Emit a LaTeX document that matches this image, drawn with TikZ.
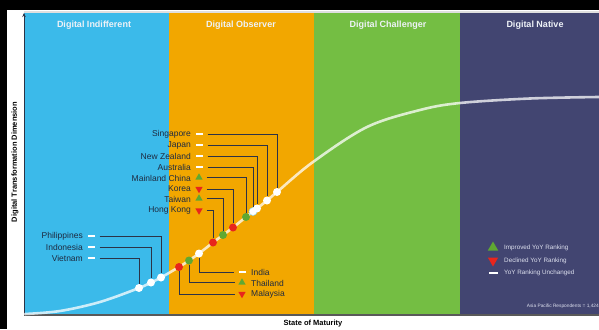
\documentclass[tikz,border=0pt]{standalone}
\usepackage{fontspec}
\setmainfont{Liberation Sans}
\usetikzlibrary{shapes.geometric,arrows.meta}
\definecolor{cblue}{HTML}{3BBAEA}
\definecolor{corange}{HTML}{F2A700}
\definecolor{cgreen}{HTML}{74BE43}
\definecolor{cnavy}{HTML}{424571}
\definecolor{ctext}{HTML}{1E2A40}
\definecolor{cline}{HTML}{2C3347}
\definecolor{cred}{HTML}{E8251C}
\definecolor{cgood}{HTML}{5FA832}
\definecolor{ctitle}{HTML}{EEF2F7}
\definecolor{cleg}{HTML}{DDE0EE}
\tikzset{
  title/.style={font=\bfseries\fontsize{9}{10}\selectfont, text=ctitle},
  lbl/.style={font=\fontsize{8.5}{9}\selectfont, text=ctext, inner sep=0pt},
  same/.style={fill=white, rectangle, inner sep=0pt, minimum width=7pt, minimum height=2pt},
  up/.style={fill=cgood, regular polygon, regular polygon sides=3, inner sep=0pt, minimum size=8.5pt},
  down/.style={fill=cred, regular polygon, regular polygon sides=3, shape border rotate=180, inner sep=0pt, minimum size=8.5pt},
  dotw/.style={circle, fill=white, inner sep=0pt, minimum size=8pt},
  dotr/.style={circle, fill=cred, inner sep=0pt, minimum size=8pt},
  dotg/.style={circle, fill=cgood, inner sep=0pt, minimum size=8pt},
  conn/.style={draw=cline, line width=0.8pt},
  leg/.style={font=\fontsize{6.3}{7}\selectfont, text=cleg, inner sep=0pt, anchor=west},
  axlbl/.style={font=\bfseries\fontsize{7.5}{8}\selectfont, text=black}
}
\begin{document}
\begin{tikzpicture}[x=1pt,y=-1pt]
\useasboundingbox (0,0) rectangle (599,329);
% frame
\fill[white] (0,0) rectangle (599,329);
\fill[black] (0,0) rectangle (599,10);
\fill[black] (0,0) rectangle (7,329);
\fill[gray!25] (24,11.5) rectangle (599,13);
% bands
\fill[cblue] (24,13) rectangle (169,315);
\fill[corange] (169,13) rectangle (314,315);
\fill[cgreen] (314,13) rectangle (460,315);
\fill[cnavy] (460,13) rectangle (599,315);
% titles
\node[title] (t1) at (94,25) {Digital Indifferent};
\node[title] (t2) at (241,25) {Digital Observer};
\node[title] (t3) at (388,25) {Digital Challenger};
\node[title] (t4) at (535,25) {Digital Native};
% axes
\coordinate (o) at (24,315);
\coordinate (ytop) at (24,13);
\coordinate (xend) at (599,315);
\draw[line width=1.6pt, draw=gray!70!black] (o) -- (xend);
\draw[line width=0.9pt, draw=cline, -{Stealth[length=4pt,width=3.5pt]}] (o) -- (ytop);
\node[axlbl, rotate=90] (ylab) at (15,162) {Digital Transformation Dimension};
\node[axlbl] (xlab) at (313,324) {State of Maturity};
% curve
\draw[white, opacity=0.75, line width=2.6pt, line cap=round]
  plot[smooth, tension=0.55] coordinates {(25,314) (60,311) (100,302) (139,288) (151,282.5) (161,277.5) (179,267) (189,260.5) (199,253.5) (213,242.5) (223,235) (233,227.5) (246,217) (253,211.5) (257,208.5) (267,200.5) (277,192) (313,162) (367,127) (420,110) (460,103) (530,98.5) (599,97)};
% dots
\node[dotw] (dVie) at (139,288) {};
\node[dotw] (dIdn) at (151,282.5) {};
\node[dotw] (dPhi) at (161,277.5) {};
\node[dotr] (dMal) at (179,267) {};
\node[dotg] (dTha) at (189,260.5) {};
\node[dotw] (dInd) at (199,253.5) {};
\node[dotr] (dHK) at (213,242.5) {};
\node[dotg] (dTw) at (223,235) {};
\node[dotr] (dKor) at (233,227.5) {};
\node[dotg] (dChi) at (246,217) {};
\node[dotw, draw=cblue!60, line width=0.5pt] (dAus) at (253,211.5) {};
\node[dotw] (dNZ) at (257,208.5) {};
\node[dotw] (dJap) at (267,200.5) {};
\node[dotw] (dSin) at (277,192) {};
% upper labels
\node[lbl, anchor=east] (lSin) at (191,134) {Singapore};
\node[lbl, anchor=east] (lJap) at (191,145) {Japan};
\node[lbl, anchor=east] (lNZ) at (191,156) {New Zealand};
\node[lbl, anchor=east] (lAus) at (191,167) {Australia};
\node[lbl, anchor=east] (lChi) at (191,178) {Mainland China};
\node[lbl, anchor=east] (lKor) at (191,188.5) {Korea};
\node[lbl, anchor=east] (lTw) at (191,199) {Taiwan};
\node[lbl, anchor=east] (lHK) at (191,210) {Hong Kong};
\node[same] (mSin) at (199,134) {};
\node[same] (mJap) at (199,145) {};
\node[same] (mNZ) at (199,156) {};
\node[same] (mAus) at (199,167) {};
\node[up] (mChi) at (199,177.5) {};
\node[down] (mKor) at (199,189) {};
\node[up] (mTw) at (199,198.5) {};
\node[down] (mHK) at (199,210.5) {};
\draw[conn] ([xshift=5pt]mSin.east) -| (dSin.north);
\draw[conn] ([xshift=5pt]mJap.east) -| (dJap.north);
\draw[conn] ([xshift=5pt]mNZ.east) -| (dNZ.north);
\draw[conn] ([xshift=5pt]mAus.east |- mAus.center) -| (dAus.north);
\draw[conn] ([xshift=5pt]mChi.east |- mChi.center) -| (dChi.north);
\draw[conn] ([xshift=5pt]mKor.east |- mKor.center) -| (dKor.north);
\draw[conn] ([xshift=5pt]mTw.east |- mTw.center) -| (dTw.north);
\draw[conn] ([xshift=5pt]mHK.east |- mHK.center) -| (dHK.north);
% left labels
\node[lbl, anchor=east] (lPhi) at (83,236) {Philippines};
\node[lbl, anchor=east] (lIdn) at (83,247) {Indonesia};
\node[lbl, anchor=east] (lVie) at (83,258) {Vietnam};
\node[same] (mPhi) at (91,236) {};
\node[same] (mIdn) at (91,247) {};
\node[same] (mVie) at (91,258) {};
\draw[conn] ([xshift=5pt]mPhi.east) -| (dPhi.north);
\draw[conn] ([xshift=5pt]mIdn.east) -| (dIdn.north);
\draw[conn] ([xshift=5pt]mVie.east) -| (dVie.north);
% bottom labels
\node[same] (mInd) at (242,272) {};
\node[up] (mTha) at (242,282.5) {};
\node[down] (mMal) at (242,294) {};
\node[lbl, anchor=west] (lInd) at (251,272) {India};
\node[lbl, anchor=west] (lTha) at (251,283) {Thailand};
\node[lbl, anchor=west] (lMal) at (251,294) {Malaysia};
\draw[conn] (dInd.south) |- ([xshift=-4pt]mInd.west);
\draw[conn] (dTha.south) |- ([xshift=-4pt]mTha.west |- mTha.center);
\draw[conn] (dMal.south) |- ([xshift=-4pt]mMal.west |- mMal.center);
% legend
\node[up, minimum size=12pt] (gUp) at (493,247.5) {};
\node[down, minimum size=12pt] (gDown) at (493,260.5) {};
\node[same, minimum width=9pt] (gSame) at (493,273) {};
\node[leg] (tUp) at (504,248) {Improved YoY Ranking};
\node[leg] (tDown) at (504,260.5) {Declined YoY Ranking};
\node[leg] (tSame) at (504,273) {YoY Ranking Unchanged};
\node[font=\fontsize{4.8}{5}\selectfont, text=cleg, inner sep=0pt, anchor=east] (resp) at (599,306) {Asia Pacific Respondents = 1,424};
\end{tikzpicture}
\end{document}
